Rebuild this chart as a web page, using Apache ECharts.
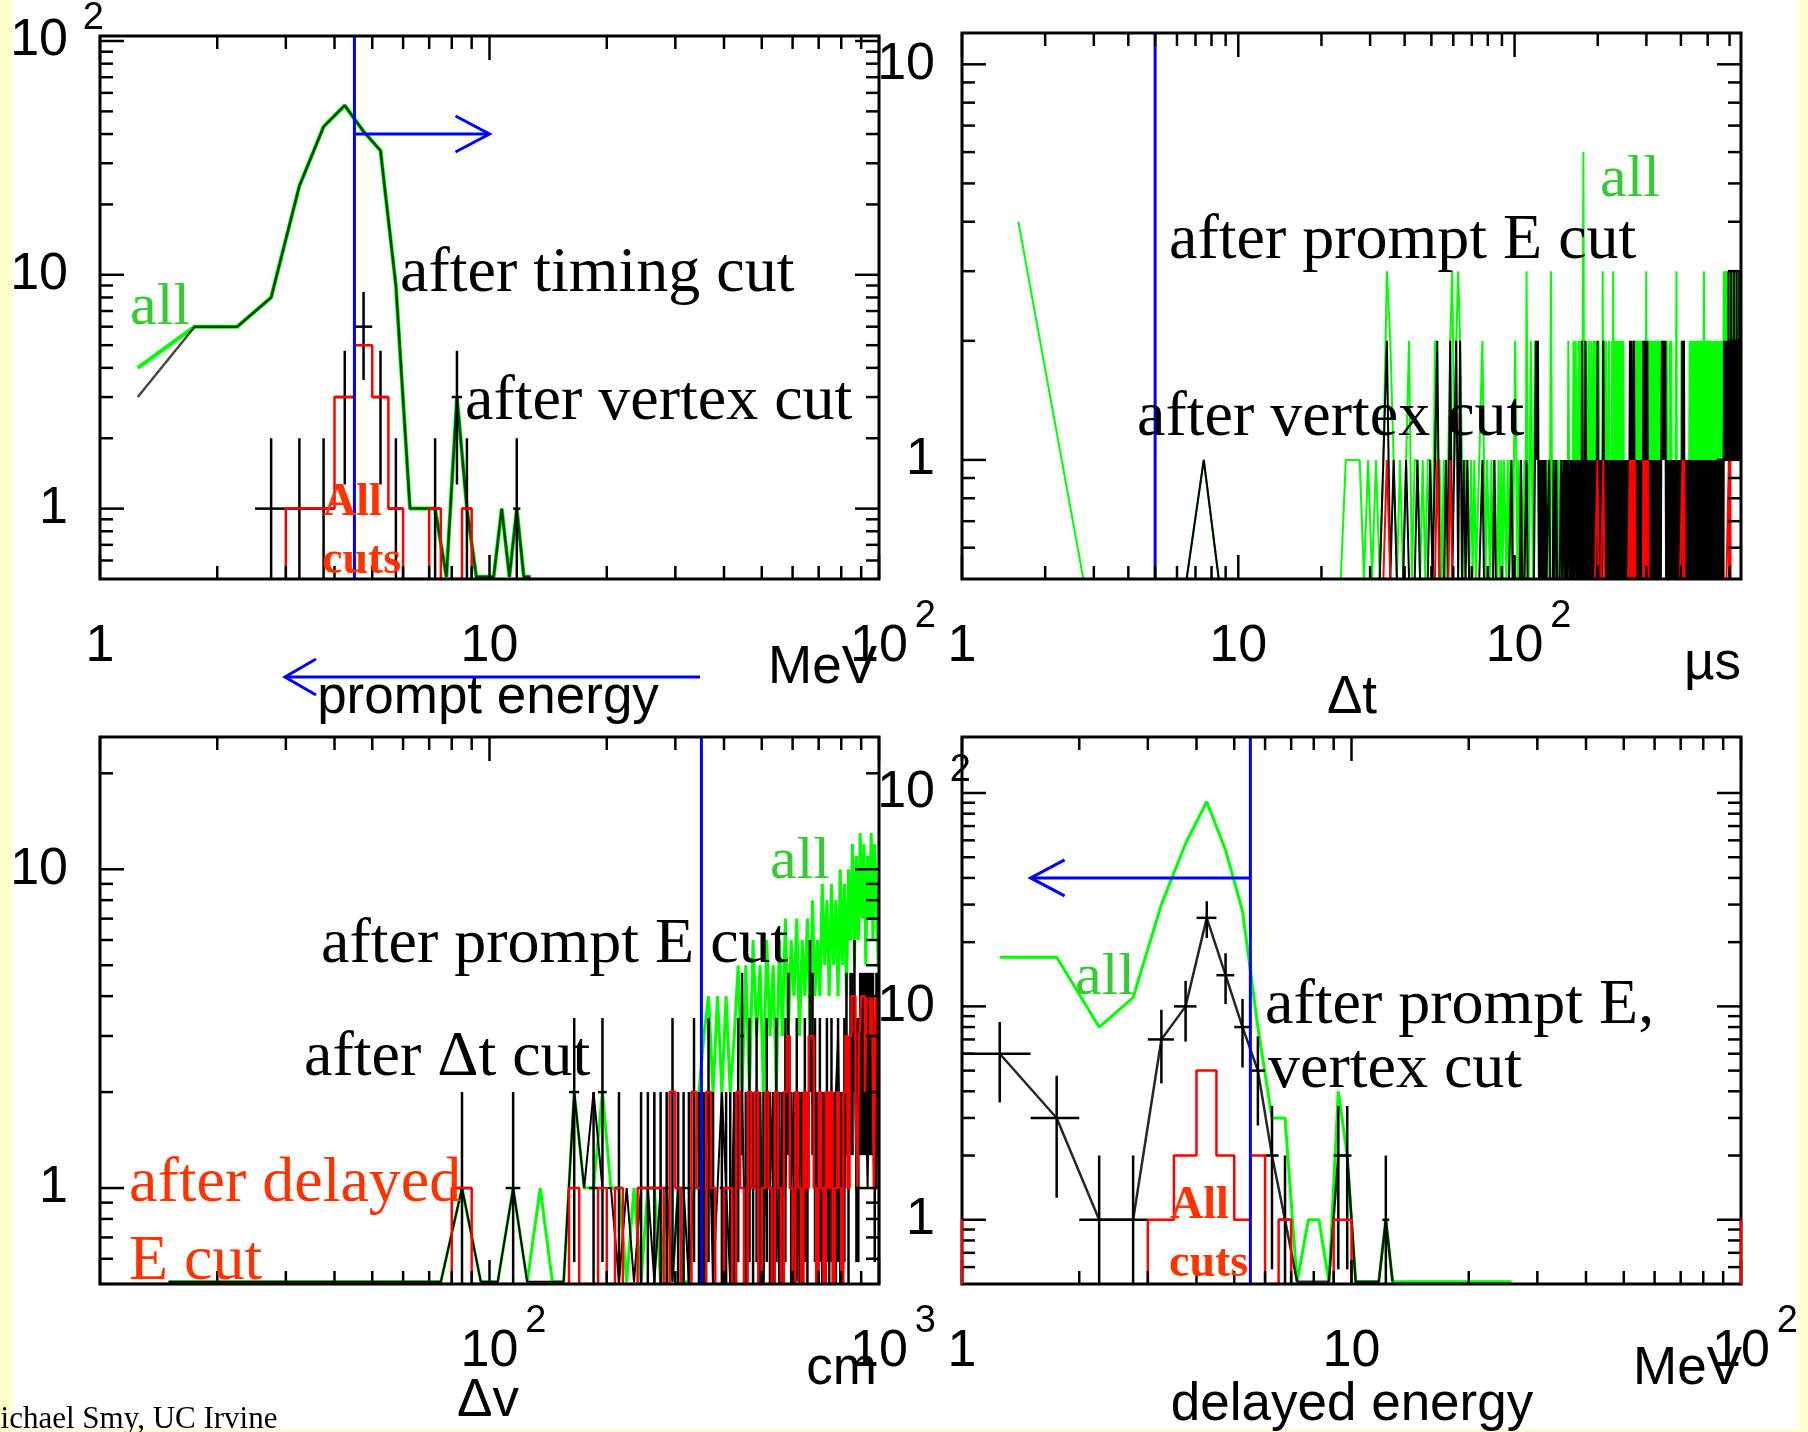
<!DOCTYPE html>
<html>
<head>
<meta charset="utf-8">
<script src="https://cdn.jsdelivr.net/npm/echarts@6.0.0/dist/echarts.min.js"></script>
<style>
html,body{margin:0;padding:0;background:#ffffff;}
#chart{width:1808px;height:1432px;}
</style>
</head>
<body>
<div id="chart"></div>
<script>
// ================= DATA =================
// ---- Panel 1: prompt energy (MeV), 0.5 MeV bins ----
const p1Bins     = [1.25,1.75,2.25,2.75,3.25,3.75,4.25,4.75,5.25,5.75,6.25,6.75,7.25,7.75,8.25,8.75,9.25,9.75,10.25,10.75,11.25,11.75,12.25,12.75];
const p1All      = [4,6,6,8,24,43,53,41,34,9,1,1,1,0,3,1,0,0,0,1,0,1,0,0];
const p1Timing   = [3,6,6,8,24,43,53,41,34,9,1,1,1,0,3,1,0,0,0,1,0,1,0,0];
const p1VertexE  = [2.75,3.25,3.75,4.25,4.75,5.25,5.75,7.25,8.25,8.75,11.75];
const p1VertexN  = [1,1,1,3,6,3,1,1,3,1,1];
const p1CutsBins = [3.25,3.75,4.25,4.75,5.25,5.75,6.25,6.75,7.25,7.75,8.25,8.75];
const p1AllCuts  = [1,1,3,5,3,1,0,0,1,0,0,1];
const p1BinW = 0.5;

// ---- Panel 2: delta t (microseconds), 1 us bins, char j -> bin centre j+0.5 ('x' = no entry) ----
const p2AllHeadT = [1.6, 2.75];
const p2AllHeadN = [4, 0];
const p2All = ["xxx0000100","0000000000","0000111101","0101321010","1201101011","0211010123","1232101101","0100112101","1010110101","0110101101",
  "2101011010","3101210121","2101011010","1010131010","1010110101","0101102101","1012012101","2121212612","1210121012","2112122101",
  "1210101031","2101211012","1010121310","2121112121","1212011210","1010110101","1011010110","2121212112","1202121121","1211211213",
  "1210112021","2121121212","1202211210","2112121221","1212121212","1210121101","1101201012","1011011101","1011131011","1101101110",
  "1210121011","1011011101","1101101011","2121221212","1220121021","2212212121","2122122121","2212021221","2212321212","1221212212",
  "2120221202","2212122121","1211212112","1021201211","2112112121","1201211202","1121121121","2232323223","3232233232","2323322323",
  "3232323223","2332323232","3223232332","2323223232","3232323322","2323232323"].join('');
const p2Vertex = ["x000000100","0000000000","0000000000","0001201000","1000100001","0120001020","1202010100","0000001000","0000100000","0000000100",
  "0000010000","1000000012","1201010101","0001000010","0100000100","1010101101","0101011010","1011021010","2101010101","0101011012",
  "1010101012","1101010110","0101101010","1010110101","0110101011","0101010110","1212121010","2101011010","1010101101","0121212101",
  "2121010101","1010110101","0101011010","1011010101","1212121212","1210101101","0110101010","1010110101","0101011010","1010101101",
  "0101212121","2101010101","1011010110","0101101010","1010110101","0110101010","1010101101","0101011010","1010110101","0101101010",
  "1011010101","0101010110","1010101011","0110101010","1010110101","0101010110","1010101101","0121212121","2121212121","2121312121",
  "2121212131","2121212121","2131212121","2121213121","2121212121","3121212123"].join('');
const p2Cuts = ["x000000000","0000000000","0000000000","0000100000","0000000000","0010000010","0000000000","0000000000","0000000000","0000000000",
  "0000000000","0000000000","0000000000","0000000000","0000000000","0000000000","0000000000","0000000000","0000000000","0000000001",
  "1000000001","1000000000","0000000000","0000000000","0000000000","0000000000","0101010101","1010000000","0000000000","0010101010",
  "1010100000","0000000000","0000000000","0000000000","0000000000","0000000000","0000000000","0000000000","0000000000","0000000000",
  "0000010101","0100000000","0000000000","0000000000","0000000000","0000000000","0000000000","0000000000","0000000000","0000000000",
  "0000000000","0000000000","0000000000","0000000000","0000000000","0000000000","0000000000","0000000000","0000000000","0000001010",
  "1010100000","0000000000","0000000000","0000000000","0000000000","0000000000"].join('');
const p2BinW = 1;

// ---- Panel 3: delta v (cm), 10 cm bins starting at 10 cm ----
const p3BinLo = 10, p3BinW = 10;
const p3All = [0,0,0,0,0,0,0,1,0,0, 1,0,1,0,0,2,1,1,2,1, 1,0,1,0,1,1,0,1,0,1, 0,0,1,2,
  3,4,2,4,2,4,2,3,5,2, 5,2,6,3,5,2,6,3,5,2, 6,3,7,3,6,4,7,3,6,4, 7,3,8,4,6,4,9,5,8,4,
  9,5,8,4,10,5,9,4,10,6, 12,5,11,6,13,7,12,5,11,7, 13,6,12,8,5];
const p3PromptE = [0,0,0,0,0,0,0,1,0,0, 1,0,0,0,0,2,1,2,1,1, 0,1,0,1,1,0,1,1,0,1, 1,0,1,1,
  1,2,0,1,2,1,0,2,1,2, 0,1,2,1,2,0,2,1,2,1, 0,2,1,3,1,2,0,2,1,2, 1,3,2,1,2,1,2,0,2,1,
  2,1,2,3,1,2,1,2,1,3, 2,3,1,2,3,2,3,2,1,3, 2,3,2,1,3];
const p3DtX = [85,115,165,185,195,215,245,255,265,275,285,295,305,315,325,335,345,355,365,375,395,405,415,425,435,445,455,465,475,485,495,505,515,525,535,545,555,565,575,585,595,605,615,625,635,645,655,665,675,685,695,705,715,725,735,745,755,765,775,785,795,805,815,825,835,845,855,865,875,885,895,905,915,925,935,945,955,965,975,985,995];
const p3DtN = [1,1,2,1,2,1,1,1,1,1,1,2,1,1,1,2,1,1,2,1,1,1,1,1,2,3,1,2,1,2,1,1,2,1,1,2,1,1,2,3,1,1,2,1,1,2,1,4,3,2,1,2,1,1,2,1,2,1,1,2,1,1,2,3,1,3,3,4,2,2,3,3,3,3,3,3,3,3,2,3,3];
const p3DelayedE = [0,0,0,0,0,0,0,1,0,0, 0,0,0,0,0,1,0,0,1,0, 1,0,0,1,1,1,1,0,2,1, 0,0,2,1,0,2,1,0,0,1,
  1,0,2,1,0,2,1,2,0,1, 2,1,0,2,1,0,2,3,1,0, 2,1,0,2,1,3,3,1,0,2, 1,0,2,1,2,0,1,2,1,0,
  2,3,1,3,4,4,2,1,3,4, 4,2,4,4,3,4,1,4,4];

// ---- Panel 4: delayed energy (MeV), 0.5 MeV bins starting at 1 MeV ----
const p4BinLo = 1.0, p4BinW = 0.5;
const p4All = [17,17,8,11,30,58,91,54,28,8,3,3,0,1,1,0,4,2,0,0,0,0,1,0,0,0,0,0,0,0,0,0,0,0,0,0,0,0,0,0,0,0,0,0,0,0,0,0,0,0];
const p4Vertex = [6,3,1,1,7,10,26,14,8,5,2,1,0,0,0,0,2,2,0,0,0,0,1,0];
const p4CutsFirst = 3.25;
const p4AllCuts = [1,2,5,2,1,2,0,1,0,0,0,0,1,1];
const p4CutsEdges = [1, 100];
const p4CutsEdgeN = [1, 1];

// ---- cuts (blue) ----
const cutP1 = 4.5, cutP2 = 5, cutP3 = 350, cutP4 = 5.5;
const arrowP1 = {from: 4.5, to: 10, n: 40};
const arrowP4 = {from: 5.5, to: 1.5, n: 40};

// ---- axes: ranges, tick labels, ticks ----
const xRange = [[1,100],[1,660],[10,1000],[1,100]];
const yRange = [[0.5,105],[0.5,12],[0.5,26],[0.5,183]];
const xLabelVals = [[1,10,100],[1,10,100],[100,1000],[1,10,100]];
const yLabelVals = [[1,10,100],[1,10],[1,10],[1,10,100]];
const xMajor = [[1,10,100],[1,10,100],[10,100,1000],[1,10,100]];
const xMinor = [[2,3,4,5,6,7,8,9,20,30,40,50,60,70,80,90],
                [2,3,4,5,6,7,8,9,20,30,40,50,60,70,80,90,200,300,400,500,600],
                [20,30,40,50,60,70,80,90,200,300,400,500,600,700,800,900],
                [2,3,4,5,6,7,8,9,20,30,40,50,60,70,80,90]];
const yMajor = [[1,10,100],[1,10],[1,10],[1,10,100]];
const yMinor = [[0.6,0.7,0.8,0.9,2,3,4,5,6,7,8,9,20,30,40,50,60,70,80,90],
                [0.6,0.7,0.8,0.9,2,3,4,5,6,7,8,9],
                [0.6,0.7,0.8,0.9,2,3,4,5,6,7,8,9,20],
                [0.6,0.7,0.8,0.9,2,3,4,5,6,7,8,9,20,30,40,50,60,70,80,90]];

// ================= LAYOUT / STYLE =================
const grids = [[100,33,779,546],[962,33,779,546],[100,737,779,547],[962,737,779,547]];
const yLabelMargin = [-4,-9,-4,-9];
const zeroLiftPx = [2.2, 0, 2.2, 2.2];
const GREEN = '#00ff00', BLACK = '#000000', RED = '#ff0000', BLUE = '#0000ff';
const SANS = 'Liberation Sans', SERIF = 'Liberation Serif';

// zero-content bins of line-drawn histograms sit on the bottom pixel row just inside the frame
function zeroLevel(k){
  const dec = grids[k][3] / (Math.log10(yRange[k][1]) - Math.log10(yRange[k][0]));
  return yRange[k][0] * Math.pow(10, zeroLiftPx[k] / dec);
}
function yv(n, z){ return n > 0 ? n : z; }
function lineData(k, centers, vals){ const z = zeroLevel(k); return centers.map((c,i)=>[c, yv(vals[i], z)]); }
function stepData(k, centers, w, vals){
  const z = yRange[k][0];
  const d = [[centers[0]-w/2, z]];
  centers.forEach((c,i)=>{ const v = yv(vals[i], z); d.push([c-w/2, v], [c+w/2, v]); });
  d.push([centers[centers.length-1]+w/2, z]);
  return d;
}
function strData(k, str, w, lift){
  const z = lift ? zeroLevel(k) : yRange[k][0];
  const d = [];
  for (let j = 0; j < str.length; j++){
    const ch = str[j];
    if (ch === 'x') continue;
    d.push([j*w + w/2, yv(parseInt(ch,10), z)]);
  }
  return d;
}
function centersFrom(lo, w, n){ const c=[]; for(let i=0;i<n;i++) c.push(lo + w*i + w/2); return c; }

function lineSeries(k, data, color, width, z, opacity){
  return {type:'line', xAxisIndex:k, yAxisIndex:k, data:data, symbol:'none', showSymbol:false,
    clip:true, silent:true, animation:false, z:z,
    lineStyle:{color:color, width:width, opacity: opacity==null?1:opacity}};
}
function errSeries(k, xs, ns, w, color, lw, z){
  const ymin = yRange[k][0], ymax = yRange[k][1];
  return {type:'custom', xAxisIndex:k, yAxisIndex:k, silent:true, animation:false, z:z, clip:true,
    data: xs.map((x,i)=>[x, ns[i]]).filter(p=>p[1]>0), encode:{x:0, y:1},
    renderItem: function(params, api){
      const x = api.value(0), n = api.value(1);
      const lo = Math.max(n - Math.sqrt(n), ymin), hi = Math.min(n + Math.sqrt(n), ymax);
      const c = api.coord([x, n]), pl = api.coord([x, lo]), ph = api.coord([x, hi]);
      const a = api.coord([x - w/2, n]), b = api.coord([x + w/2, n]);
      const st = {stroke:color, lineWidth:lw};
      return {type:'group', children:[
        {type:'line', shape:{x1:c[0], y1:pl[1], x2:c[0], y2:ph[1]}, style:st},
        {type:'line', shape:{x1:a[0], y1:c[1], x2:b[0], y2:c[1]}, style:st}]};
    }};
}
function tickSeries(k){
  const xRef = xRange[k][0], yRef = 1;
  const data = [];
  xMajor[k].forEach(v=>data.push([v, yRef, 0]));
  xMinor[k].forEach(v=>data.push([v, yRef, 1]));
  yMajor[k].forEach(v=>data.push([xRef, v, 2]));
  yMinor[k].forEach(v=>data.push([xRef, v, 3]));
  data.push([xRef, yRef, 4]);
  return {type:'custom', xAxisIndex:k, yAxisIndex:k, silent:true, animation:false, z:20,
    data:data, encode:{x:0, y:1},
    renderItem: function(params, api){
      const cs = params.coordSys;
      const kind = api.value(2);
      const st = {stroke:'#000', lineWidth:2.5};
      if (kind === 4) return {type:'rect', shape:{x:cs.x, y:cs.y, width:cs.width, height:cs.height},
        style:{stroke:'#000', fill:'none', lineWidth:3}};
      const p = api.coord([api.value(0), api.value(1)]);
      const L = (kind === 0 || kind === 2) ? 24 : 13;
      if (kind < 2) return {type:'group', children:[
        {type:'line', shape:{x1:p[0], y1:cs.y+cs.height, x2:p[0], y2:cs.y+cs.height-L}, style:st},
        {type:'line', shape:{x1:p[0], y1:cs.y, x2:p[0], y2:cs.y+L}, style:st}]};
      return {type:'group', children:[
        {type:'line', shape:{x1:cs.x, y1:p[1], x2:cs.x+L, y2:p[1]}, style:st},
        {type:'line', shape:{x1:cs.x+cs.width, y1:p[1], x2:cs.x+cs.width-L, y2:p[1]}, style:st}]};
    }};
}
function cutSeries(k, xcut, arrow){
  return {type:'custom', xAxisIndex:k, yAxisIndex:k, silent:true, animation:false, z:15,
    data:[[xcut, 1]], encode:{x:0, y:1},
    renderItem: function(params, api){
      const cs = params.coordSys;
      const p = api.coord([xcut, 1]);
      const st = {stroke:BLUE, lineWidth:3, fill:'none'};
      const ch = [{type:'line', shape:{x1:p[0], y1:cs.y, x2:p[0], y2:cs.y+cs.height}, style:st}];
      if (arrow){
        const a = api.coord([arrow.from, arrow.n]), b = api.coord([arrow.to, arrow.n]);
        const s = Math.sign(b[0]-a[0]);
        ch.push({type:'line', shape:{x1:a[0], y1:a[1], x2:b[0], y2:b[1]}, style:st});
        ch.push({type:'polyline', shape:{points:[[b[0]-s*34, b[1]-18],[b[0], b[1]],[b[0]-s*34, b[1]+18]]}, style:st});
      }
      return {type:'group', children:ch};
    }};
}
function edgeSeries(k, xs, ns, color){
  const ymin = yRange[k][0];
  return {type:'custom', xAxisIndex:k, yAxisIndex:k, silent:true, animation:false, z:22,
    data: xs.map((x,i)=>[x, ns[i]]), encode:{x:0, y:1},
    renderItem: function(params, api){
      const a = api.coord([api.value(0), api.value(1)]), b = api.coord([api.value(0), ymin]);
      return {type:'line', shape:{x1:a[0], y1:a[1], x2:b[0], y2:b[1]}, style:{stroke:color, lineWidth:2.5}};
    }};
}

function fmt(labels, isY){
  return function(v){
    const e = Math.log10(v);
    const r = Math.round(e);
    if (Math.abs(e - r) > 1e-4) return '';
    if (!labels.some(l => Math.abs(Math.log10(l) - r) < 1e-6)) return '';
    const base = r === 0 ? '1' : '10';
    const sup = r >= 2 ? String(r) : '';
    if (isY) return '{n|' + base + '}{s|' + (sup || ' ') + '}';
    return sup ? '{p| }{n|' + base + '}{s|' + sup + '}' : '{n|' + base + '}';
  };
}
const xRich = {
  n:{fontSize:52, fontFamily:SANS, lineHeight:98, verticalAlign:'middle', color:'#000'},
  s:{fontSize:38, fontFamily:SANS, width:28, align:'right', verticalAlign:'top', color:'#000'},
  p:{fontSize:38, fontFamily:SANS, width:28, color:'#000'}
};
const yRich = {
  n:{fontSize:52, fontFamily:SANS, lineHeight:82, verticalAlign:'middle', color:'#000'},
  s:{fontSize:38, fontFamily:SANS, width:36, align:'right', verticalAlign:'top', color:'#000'}
};

const xAxes = [0,1,2,3].map(k=>({type:'log', logBase:10, gridIndex:k, min:xRange[k][0], max:xRange[k][1],
  axisLine:{show:false}, axisTick:{show:false}, minorTick:{show:false}, splitLine:{show:false},
  axisLabel:{formatter:fmt(xLabelVals[k], false), rich:xRich, margin:19, color:'#000'}}));
const yAxes = [0,1,2,3].map(k=>({type:'log', logBase:10, gridIndex:k, min:yRange[k][0], max:yRange[k][1],
  axisLine:{show:false}, axisTick:{show:false}, minorTick:{show:false}, splitLine:{show:false},
  axisLabel:{formatter:fmt(yLabelVals[k], true), rich:yRich, margin:yLabelMargin[k], color:'#000'}}));

// ----- series -----
const series = [];
// panel 1
series.push(lineSeries(0, lineData(0, p1Bins, p1All), GREEN, 4, 2));
series.push(lineSeries(0, lineData(0, p1Bins, p1Timing), BLACK, 2.5, 3, 0.72));
series.push(errSeries(0, p1VertexE, p1VertexN, p1BinW, BLACK, 2.5, 4));
series.push(lineSeries(0, stepData(0, p1CutsBins, p1BinW, p1AllCuts), RED, 2.5, 5));
series.push(cutSeries(0, cutP1, arrowP1));
series.push(tickSeries(0));
// panel 2
const p2GreenData = lineData(1, p2AllHeadT, p2AllHeadN).concat(strData(1, p2All, p2BinW, false));
series.push(lineSeries(1, p2GreenData, GREEN, 2, 2));
series.push(lineSeries(1, strData(1, p2Vertex, p2BinW, false), BLACK, 2, 3));
series.push(lineSeries(1, strData(1, p2Cuts, p2BinW, false), RED, 2, 5));
series.push(cutSeries(1, cutP2, null));
series.push(tickSeries(1));
// panel 3
const p3Centers = centersFrom(p3BinLo, p3BinW, p3All.length);
series.push(lineSeries(2, lineData(2, p3Centers, p3All), GREEN, 3, 2));
series.push(lineSeries(2, lineData(2, p3Centers, p3PromptE), BLACK, 2, 3));
series.push(errSeries(2, p3DtX, p3DtN, p3BinW, BLACK, 2.5, 4));
series.push(lineSeries(2, stepData(2, p3Centers, p3BinW, p3DelayedE), RED, 2.5, 5));
series.push(cutSeries(2, cutP3, null));
series.push(tickSeries(2));
// panel 4
const p4Centers = centersFrom(p4BinLo, p4BinW, p4All.length);
const p4VCenters = centersFrom(p4BinLo, p4BinW, p4Vertex.length);
const p4CCenters = centersFrom(p4CutsFirst - p4BinW/2, p4BinW, p4AllCuts.length);
series.push(lineSeries(3, lineData(3, p4Centers, p4All), GREEN, 3, 2));
series.push(lineSeries(3, lineData(3, p4VCenters, p4Vertex), BLACK, 2.5, 3, 0.85));
series.push(errSeries(3, p4VCenters, p4Vertex, p4BinW, BLACK, 2.5, 4));
series.push(lineSeries(3, stepData(3, p4CCenters, p4BinW, p4AllCuts), RED, 2.5, 5));
series.push(edgeSeries(3, p4CutsEdges, p4CutsEdgeN, RED));
series.push(cutSeries(3, cutP4, arrowP4));
series.push(tickSeries(3));

// ----- text / decoration -----
function txt(s, x, base, size, family, color, align, bold){
  const font = (bold ? 'bold ' : '') + size + 'px "' + family + '"';
  const k = family === SANS ? 0.29 : (bold ? 0.26 : 0.25);
  return {type:'text', x:x, y:base - k*size, z:100, silent:true,
    style:{text:s, font:font, fill:color||'#000', align:align||'left', verticalAlign:'middle',
      textAlign:align||'left', textVerticalAlign:'middle'}};
}
const TXT = 64, ALL = 60, AX = 53;
const graphics = [
  {type:'rect', shape:{x:0, y:0, width:12, height:1432}, style:{fill:'#ffffcc'}, z:0, silent:true},
  {type:'rect', shape:{x:1799, y:0, width:9, height:1432}, style:{fill:'#ffffcc'}, z:0, silent:true},
  {type:'rect', shape:{x:0, y:1429, width:1808, height:3}, style:{fill:'#ffffcc'}, z:0, silent:true},
  // panel 1
  txt('all', 130, 323, ALL, SERIF, '#33cc33'),
  txt('after timing cut', 400, 290, TXT, SERIF, '#000'),
  txt('after vertex cut', 465, 418, TXT, SERIF, '#000'),
  txt('All', 323, 515, 46, SERIF, '#ff3300', 'left', true),
  txt('cuts', 322, 573, 46, SERIF, '#ff3300', 'left', true),
  txt('MeV', 877, 684, AX, SANS, '#000', 'right'),
  txt('prompt energy', 488, 714, AX, SANS, '#000', 'center'),
  // panel 2
  txt('all', 1600, 195, ALL, SERIF, '#33cc33'),
  txt('after prompt E cut', 1169, 257, TXT, SERIF, '#000'),
  txt('after vertex cut', 1137, 434, TXT, SERIF, '#000'),
  txt('\u00b5s', 1741, 680, AX, SANS, '#000', 'right'),
  txt('\u0394t', 1352, 714, AX, SANS, '#000', 'center'),
  // panel 3
  txt('all', 770, 877, ALL, SERIF, '#33cc33'),
  txt('after prompt E cut', 321, 961, TXT, SERIF, '#000'),
  txt('after \u0394t cut', 304, 1074, TXT, SERIF, '#000'),
  txt('after delayed', 129, 1200, TXT, SERIF, '#ff3300'),
  txt('E cut', 129, 1278, TXT, SERIF, '#ff3300'),
  txt('cm', 877, 1385, AX, SANS, '#000', 'right'),
  txt('\u0394v', 488, 1417, AX, SANS, '#000', 'center'),
  // panel 4
  txt('all', 1075, 993, ALL, SERIF, '#33cc33'),
  txt('after prompt E,', 1265, 1022, TXT, SERIF, '#000'),
  txt('vertex cut', 1268, 1086, TXT, SERIF, '#000'),
  txt('All', 1170, 1218, 46, SERIF, '#ff3300', 'left', true),
  txt('cuts', 1169, 1276, 46, SERIF, '#ff3300', 'left', true),
  txt('MeV', 1742, 1385, AX, SANS, '#000', 'right'),
  txt('delayed energy', 1352, 1421, AX, SANS, '#000', 'center'),
  // footer
  txt('Michael Smy, UC Irvine', -27, 1428, 31, SERIF, '#000'),
  // blue arrow under panel 1
  {type:'polyline', shape:{points:[[285,677],[700,677]]}, style:{stroke:BLUE, lineWidth:3, fill:'none'}, z:50, silent:true},
  {type:'polyline', shape:{points:[[316,659],[285,677],[316,695]]}, style:{stroke:BLUE, lineWidth:3, fill:'none'}, z:50, silent:true}
];

const option = {
  animation:false,
  backgroundColor:'#ffffff',
  grid: grids.map(g=>({left:g[0], top:g[1], width:g[2], height:g[3], show:false})),
  xAxis: xAxes,
  yAxis: yAxes,
  series: series,
  graphic: {elements: graphics}
};
const chart = echarts.init(document.getElementById('chart'), null, {renderer:'canvas', width:1808, height:1432});
chart.setOption(option);
</script>
</body>
</html>
